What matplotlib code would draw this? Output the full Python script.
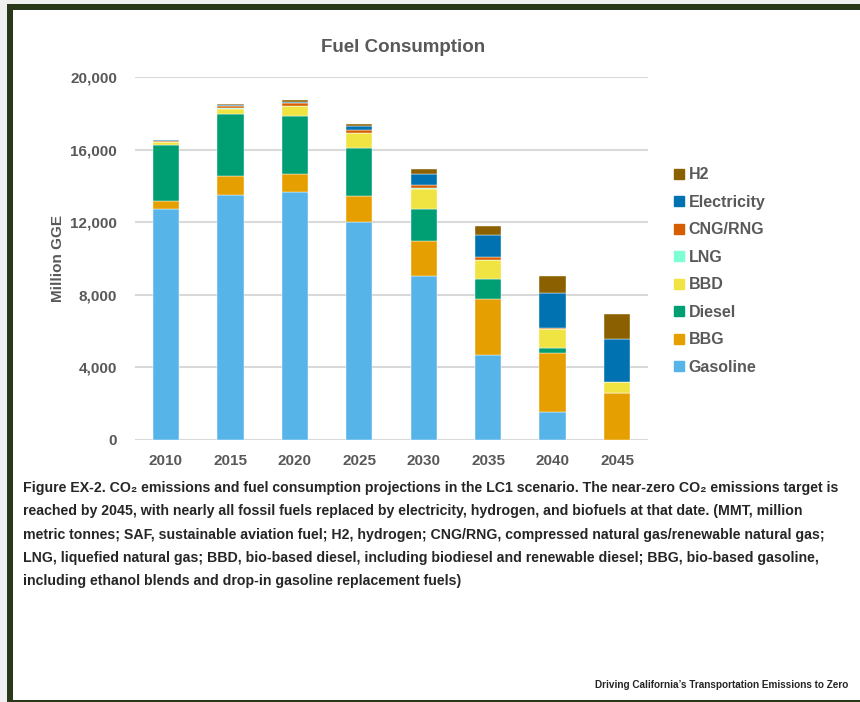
import matplotlib.pyplot as plt
from matplotlib.lines import Line2D
from matplotlib.patches import Rectangle

# data (million GGE)
years = ["2010", "2015", "2020", "2025", "2030", "2035", "2040", "2045"]
gasoline = [12700, 13500, 13650, 12020, 9050, 4710, 1550, 0]
bbg = [450, 1050, 1030, 1410, 1900, 3070, 3270, 2580]
diesel = [3100, 3430, 3150, 2650, 1800, 1070, 240, 0]
bbd = [150, 270, 550, 810, 1090, 1070, 1050, 610]
lng = [20, 20, 20, 20, 20, 20, 10, 0]
cng = [50, 130, 160, 160, 180, 130, 50, 20]
elec = [50, 60, 80, 250, 640, 1210, 1920, 2380]
h2 = [0, 50, 110, 80, 240, 530, 960, 1370]

series = [
    ("Gasoline", gasoline, "#56B4E9"),
    ("BBG", bbg, "#E69F00"),
    ("Diesel", diesel, "#009E73"),
    ("BBD", bbd, "#F0E442"),
    ("LNG", lng, "#7FFFD4"),
    ("CNG/RNG", cng, "#D55E00"),
    ("Electricity", elec, "#0072B2"),
    ("H2", h2, "#8B6000"),
]

caption = ("Figure EX-2. CO\u2082 emissions and fuel consumption projections in the LC1 scenario. "
           "The near-zero CO\u2082 emissions target is\n"
           "reached by 2045, with nearly all fossil fuels replaced by electricity, hydrogen, "
           "and biofuels at that date. (MMT, million\n"
           "metric tonnes; SAF, sustainable aviation fuel; H2, hydrogen; CNG/RNG, compressed "
           "natural gas/renewable natural gas;\n"
           "LNG, liquefied natural gas; BBD, bio-based diesel, including biodiesel and renewable "
           "diesel; BBG, bio-based gasoline,\n"
           "including ethanol blends and drop-in gasoline replacement fuels)")

grey = "#595959"
fonts = ["Liberation Sans", "DejaVu Sans"]
plt.rcParams["font.family"] = fonts

W, H = 860, 702
fig = plt.figure(figsize=(W / 100, H / 100), dpi=100)

# page frame
fig.patches.append(Rectangle((0, 0), 1, 1, transform=fig.transFigure,
                             facecolor="#f0f0f0", edgecolor="none", zorder=-3))
fig.patches.append(Rectangle((7 / W, 0), 1, 1 - 4 / H, transform=fig.transFigure,
                             facecolor="#283818", edgecolor="none", zorder=-2))
fig.patches.append(Rectangle((12.5 / W, 2.5 / H), 1, 1 - 10 / H - 2.5 / H,
                             transform=fig.transFigure,
                             facecolor="white", edgecolor="none", zorder=-1))

ax = fig.add_axes([135 / W, 1 - 440 / H, (648 - 135) / W, (440 - 77) / H])
ax.set_facecolor("none")

x = range(len(years))
bottom = [0] * len(years)
for name, vals, color in series:
    ax.bar(x, vals, width=0.41, bottom=bottom, color=color,
           edgecolor="white", linewidth=0.3, zorder=3)
    bottom = [b + v for b, v in zip(bottom, vals)]

ax.set_ylim(0, 20000)
ax.set_xlim(-0.48, 7.48)
ax.set_yticks(range(0, 20001, 4000))
ax.set_yticklabels([f"{v:,}" for v in range(0, 20001, 4000)])
ax.set_xticks(list(x))
ax.set_xticklabels(years)
ax.grid(axis="y", color="#d9d9d9", linewidth=1.5, zorder=0)
ax.tick_params(axis="y", length=0, labelsize=11, labelcolor=grey, pad=13)
ax.tick_params(axis="x", length=0, labelsize=11, labelcolor=grey, pad=10)
for lab in ax.get_xticklabels() + ax.get_yticklabels():
    lab.set_fontweight("bold")
for s in ax.spines.values():
    s.set_visible(False)
ax.set_ylabel("Million GGE", fontsize=11, color=grey, fontweight="bold", labelpad=4)

fig.text(403 / W, 1 - 47 / H, "Fuel Consumption", ha="center", va="center",
         fontsize=13.5, fontweight="bold", color=grey)

handles = [Line2D([], [], marker="s", linestyle="none", markersize=7,
                  markerfacecolor=c, markeredgecolor=c) for _, _, c in series][::-1]
labels = [n for n, _, _ in series][::-1]
leg = fig.legend(handles, labels, loc="upper left", bbox_to_anchor=(660 / W, 1 - 153 / H),
                 frameon=False, handlelength=0.6, handletextpad=0.3,
                 labelspacing=0.78, fontsize=11.5)
for t in leg.get_texts():
    t.set_color(grey)
    t.set_fontweight("bold")

fig.text(23 / W, 1 - 481 / H, caption, ha="left", va="top", fontsize=10.2,
         fontweight="bold", color="#262626", linespacing=1.85)

fig.text(848 / W, 1 - 685 / H, "Driving California\u2019s Transportation Emissions to Zero",
         ha="right", va="center", fontsize=7.2, fontweight="bold", color="#262626")

fig.savefig("out.png", dpi=100)
